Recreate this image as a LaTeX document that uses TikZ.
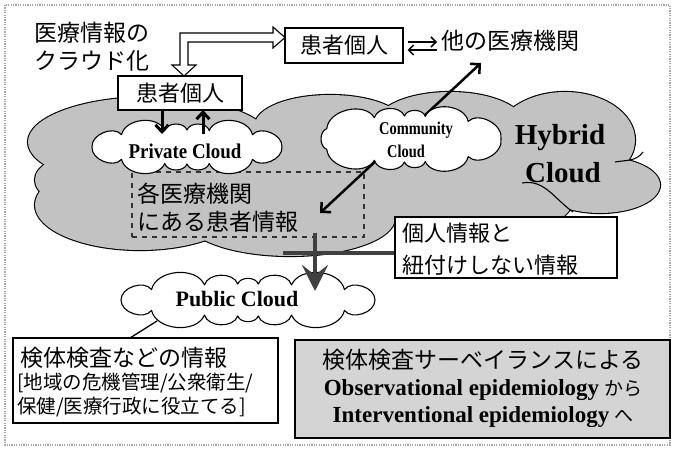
\documentclass[tikz,border=0pt]{standalone}
\usepackage{fontspec}
\setmainfont{Liberation Serif}
\newfontfamily\jp{Noto Sans CJK JP}
\usetikzlibrary{arrows.meta,calc}
% #1 name, #2 cx, #3 cy, #4 rx, #5 ry, #6 puffs
\newcommand\drawcloud[6]{%
  \path[cldsty] ({#2+#4},{#3}) \foreach \i in {1,...,#6} {
    to[bend left=72] ({#2+#4*cos(\i*360/#6+19*sin(2*\i*360/#6))},{#3+#5*sin(\i*360/#6+19*sin(2*\i*360/#6))}) } -- cycle;
  \coordinate (#1) at (#2,#3);}
\begin{document}
\begin{tikzpicture}[x=1pt,y=-1pt,
  box/.style={draw,line width=1.1pt,fill=white,inner sep=0pt},
  jpt/.style={font=\jp\fontsize{#1}{#1}\selectfont,inner sep=0pt},
  ent/.style={font=\bfseries\fontsize{#1}{#1}\selectfont,inner sep=0pt},
  cldsty/.style={draw,line width=1.1pt,fill=white,line join=round},
  hyb/.style={black!24},
]
\useasboundingbox (0,0) rectangle (673,449);
\draw[gray!70,line width=1.2pt,dash pattern=on 1.2pt off 1.2pt] (5,5) rectangle (670,445);

% Hybrid cloud: union of lobes (outline then fill)
\def\lobes{150/142/122/45, 140/205/105/45, 80/180/45/25, 290/218/105/38, 330/125/75/30, 450/125/75/33, 565/140/70/48, 600/185/60/28, 480/195/95/45, 330/180/110/45}
\foreach \cx/\cy/\rx/\ry in \lobes {\draw[line width=2.2pt] (\cx,\cy) ellipse [x radius=\rx, y radius=\ry];}
\foreach \cx/\cy/\rx/\ry in \lobes {\fill[hyb] (\cx,\cy) ellipse [x radius=\rx, y radius=\ry];}
% inner lobe strokes
\draw[line width=1.1pt] (522,183) to[out=10,in=145] (573,212);
\draw[line width=1.1pt] (615,162) to[out=10,in=235] (643,152);

% dashed box
\node[draw,black!80,line width=1.3pt,dash pattern=on 5pt off 5pt,minimum width=232pt,minimum height=65pt,inner sep=0pt] (dbox) at (248,204.5) {};
\node[jpt=23,anchor=west] (d1t) at (137,194) {各医療機関};
\node[jpt=23,anchor=west] (d2t) at (137,222) {にある患者情報};

% diagonal double arrow
\coordinate (da) at (320,213);
\coordinate (db) at (481,63);
\draw[line width=2.5pt,{Straight Barb[length=7pt,width=14pt]}-{Straight Barb[length=7pt,width=14pt]}] (da) -- (db);

% clouds
\drawcloud{priv}{187}{147}{95}{17}{12}
\node[ent=21] (privt) at (185,151) {\scalebox{0.9}[1]{Private Cloud}};
\drawcloud{comm}{409}{139}{92}{23}{11}
\node[ent=18] (comm1) at (416,130) {\scalebox{0.8}[1]{Community}};
\node[ent=18] (comm2) at (406,151) {\scalebox{0.8}[1]{Cloud}};
\node[ent=29] (hy1) at (560,138) {Hybrid};
\node[ent=29] (hy2) at (563,173) {Cloud};

% link to info box
\coordinate (hb) at (283,253);
\node[box,minimum width=222pt,minimum height=61pt] (info) at (506,247.5) {};
\draw[black!75,line width=4pt] (hb) -- (hb -| info.west);
\node[jpt=22,anchor=west] (i1) at (402,233) {個人情報と};
\node[jpt=22,anchor=west] (i2) at (402,265) {紐付けしない情報};

% public cloud
\drawcloud{pub}{248}{300}{127}{16}{14}
\node[ent=22] (pubt) at (237,299) {Public Cloud};
\coordinate (vt) at (315,233);
\coordinate (vb) at (315,291);
\draw[black!75,line width=4.5pt,-{Stealth[length=26pt,width=26pt,inset=10pt]}] (vt) -- (vb);

% top boxes
\node[box,minimum width=118pt,minimum height=35pt] (pt1) at (344,45.5) {};
\node[jpt=22] (pt1t) at (344,45.5) {患者個人};
\node[box,minimum width=124pt,minimum height=34pt] (pt2) at (180,93) {};
\node[jpt=22] (pt2t) at (180,93) {患者個人};
\node[jpt=23,anchor=west] (h1) at (34,33) {医療情報の};
\node[jpt=23,anchor=west] (h2) at (34,61) {クラウド化};
\node[jpt=23,anchor=west] (other) at (441,41) {他の医療機関};

% hollow double arrow
\draw[line width=1.1pt,fill=white,line join=miter] (180,65) -- (180,33) -- (273,33) -- (273,27) -- (285,37.5) -- (273,48) -- (273,42) -- (188,42) -- (188,65) -- (196,65) -- (184,76) -- (172,65) -- cycle;

% small double arrows
\coordinate (s1) at ($(pt1.east)+(4,-3.5)$);
\coordinate (s2) at (437,42);
\coordinate (s3) at (437,50);
\coordinate (s4) at ($(pt1.east)+(4,4.5)$);
\draw[line width=1.5pt,-{Straight Barb[length=5pt,width=10pt]}] (s1) -- (s2);
\draw[line width=1.5pt,-{Straight Barb[length=5pt,width=10pt]}] (s3) -- (s4);

% arrows between patient box and private cloud
\coordinate (p1) at (162,110);
\coordinate (p2) at (162,134);
\coordinate (p3) at (203,134);
\coordinate (p4) at (203,110);
\draw[line width=3pt,-{Straight Barb[length=7pt,width=13pt]}] (p1) -- (p2);
\draw[line width=3pt,-{Straight Barb[length=7pt,width=13pt]}] (p3) -- (p4);

% bottom left box
\node[box,minimum width=265pt,minimum height=85pt] (kb) at (145.5,380.5) {};
\coordinate (pl) at (157,321);
\coordinate (kl) at (130,338);
\draw[line width=1.3pt] (pl) -- (kl);
\node[jpt=23,anchor=west] (k1) at (20,358) {検体検査などの情報};
\node[jpt=19.5,anchor=west] (k2) at (17,383) {[地域の危機管理/公衆衛生/};
\node[jpt=19.5,anchor=west] (k3) at (17,407) {保健/医療行政に役立てる]};

% bottom right box
\node[draw,line width=1.1pt,fill=black!17,minimum width=375pt,minimum height=98pt,inner sep=0pt] (sb) at (482.5,389) {};
\node[jpt=23] (s1t) at (483,360) {検体検査サーベイランスによる};
\node[inner sep=0pt] (s2t) at (483,390) {{\bfseries\fontsize{23}{23}\selectfont Observational epidemiology}\hspace{5pt}{\jp\fontsize{19}{19}\selectfont から}};
\node[inner sep=0pt] (s3t) at (483,417) {{\bfseries\fontsize{23}{23}\selectfont Interventional epidemiology}\hspace{5pt}{\jp\fontsize{19}{19}\selectfont へ}};
\end{tikzpicture}
\end{document}
